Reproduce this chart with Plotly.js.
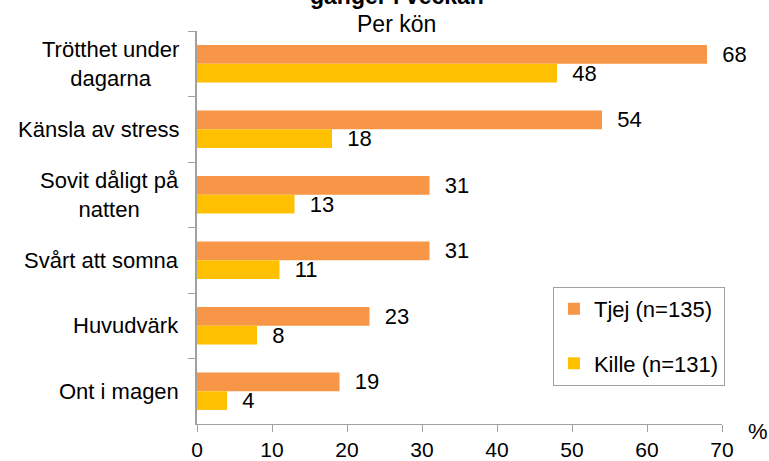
<!DOCTYPE html>
<html><head><meta charset="utf-8">
<script src="https://cdn.plot.ly/plotly-3.0.1.min.js"></script>
<style>html,body{margin:0;padding:0;background:#fff}#chart{width:769px;height:461px}</style>
</head><body><div id="chart"></div>
<script>
const categories = ["Trötthet under<br>dagarna","Känsla av stress","Sovit dåligt på<br>natten","Svårt att somna","Huvudvärk","Ont i magen"];
const tjej = [68, 54, 31, 31, 23, 19];
const kille = [48, 18, 13, 11, 8, 4];
const seriesNames = ["Tjej (n=135)", "Kille (n=131)"];
const xTicks = [0,10,20,30,40,50,60,70];
const titleLine = "gånger i veckan";
const subtitle = "Per kön";

const FAM = "Liberation Sans, Arial, sans-serif";
const font = {family: FAM, size: 22, color: "#000"};
const traces = [
  {type:"bar", orientation:"h", y:categories, x:tjej, name:seriesNames[0], legendgroup:"a",
   marker:{color:"#F79646"}, text:tjej.map(String), texttemplate:"\u00a0\u00a0%{text}", textposition:"outside",
   constraintext:"none", textfont:font, cliponaxis:false, hoverinfo:"x"},
  {type:"bar", orientation:"h", y:categories, x:kille, name:seriesNames[1], legendgroup:"b",
   marker:{color:"#FFC000"}, text:kille.map(String), texttemplate:"\u00a0\u00a0%{text}", textposition:"outside",
   constraintext:"none", textfont:font, cliponaxis:false, hoverinfo:"x"}
];
const catLabels = categories.map(c => ({
  text:c, xref:"paper", x:0, xanchor:"right", xshift:-16, yref:"y", y:c, yanchor:"middle",
  align:"center", showarrow:false, font:font
}));
const titleAnns = [
  {text:"<b>"+titleLine+"</b>", xref:"paper", yref:"paper", x:0.38, y:1, xanchor:"center", yanchor:"bottom",
   yshift:20, showarrow:false, font:{family:FAM, size:23, color:"#000"}},
  {text:subtitle, xref:"paper", yref:"paper", x:0.38, y:1, xanchor:"center", yanchor:"bottom",
   yshift:-8, showarrow:false, font:{family:FAM, size:23, color:"#000"}}
];
const layout = {
  width:769, height:461,
  margin:{l:197, r:47, t:31, b:37},
  paper_bgcolor:"#fff", plot_bgcolor:"#fff",
  font:font,
  barmode:"group", bargap:0.43, bargroupgap:0,
  xaxis:{range:[0,70], tickvals:xTicks, ticktext:xTicks.map(String), showgrid:false, zeroline:false,
         showline:true, linecolor:"#a0a0a0", linewidth:1, ticks:"outside", ticklen:7, tickcolor:"#a0a0a0",
         tickfont:{family:FAM, size:21, color:"#000"}, fixedrange:true},
  yaxis:{autorange:"reversed", showgrid:false, showline:true, linecolor:"#a0a0a0", linewidth:2,
         ticks:"outside", tickson:"boundaries", ticklen:7, tickcolor:"#a0a0a0", showticklabels:false},
  legend:{x:0.678, y:0.349, xanchor:"left", yanchor:"top", bordercolor:"#a0a0a0", borderwidth:1,
          bgcolor:"#fff", font:{family:FAM, size:22, color:"#000"},
          traceorder:"grouped", tracegroupgap:23, itemsizing:"constant", itemwidth:30},
  showlegend:true,
  annotations:catLabels.concat(titleAnns, [{text:"%", xref:"paper", yref:"paper", x:1.069, y:-0.02, xanchor:"center", yanchor:"middle",
                showarrow:false, font:{family:FAM, size:22, color:"#000"}}])
};
Plotly.newPlot("chart", traces, layout, {displayModeBar:false, staticPlot:true});
</script></body></html>
